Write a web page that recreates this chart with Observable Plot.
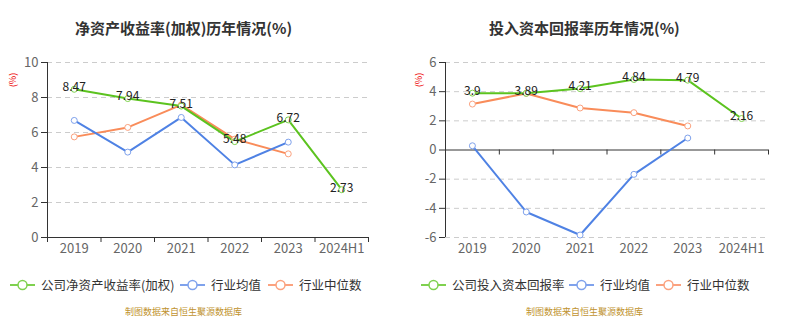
<!DOCTYPE html>
<html><head><meta charset="utf-8">
<script src="https://cdn.jsdelivr.net/npm/d3@7"></script>
<script src="https://cdn.jsdelivr.net/npm/@observablehq/plot@0.6"></script>
<style>
body{margin:0;background:#fff;font-family:"Noto Sans CJK SC","Noto Sans",sans-serif;}
#wrap{position:relative;width:812px;height:329px;overflow:hidden;background:#fff}
.abs{position:absolute;white-space:nowrap}
.title{font-size:15px;font-weight:bold;color:#333;line-height:18px}
.unit{font-size:9px;color:#e00;transform:rotate(-90deg);transform-origin:center;line-height:10px}
.leg{font-size:12.5px;color:#333;line-height:16px;display:flex;align-items:center}
.leg svg{margin-right:6px}
.cap{font-size:9px;color:#c0922e;line-height:11px}
.chart{position:absolute;top:0}
</style></head><body><div id="wrap"></div>
<script>
const years = ["2019","2020","2021","2022","2023","2024H1"];
const roeCompany = [8.47,7.94,7.51,5.48,6.72,2.73];
const roeMean = [6.69,4.88,6.86,4.15,5.45];
const roeMedian = [5.75,6.29,7.58,5.62,4.78];
const roicCompany = [3.9,3.89,4.21,4.84,4.79,2.16];
const roicMean = [0.29,-4.25,-5.83,-1.67,0.82];
const roicMedian = [3.15,3.88,2.88,2.56,1.65];
const roeTicks = [0,2,4,6,8,10];
const roicTicks = [-6,-4,-2,0,2,4,6];
const titles = ["净资产收益率(加权)历年情况(%)", "投入资本回报率历年情况(%)"];
const legendNames = [["公司净资产收益率(加权)","行业均值","行业中位数"],["公司投入资本回报率","行业均值","行业中位数"]];
const caption = "制图数据来自恒生聚源数据库";
const colors = {company:"#5cc31f", mean:"#4f82e4", median:"#f98c5a"};
const legendColors = {company:"#7fd14f", mean:"#7fa2ec", median:"#fba27f"};

const wrap = document.getElementById("wrap");
const font = '"Noto Sans CJK SC","Noto Sans",sans-serif';

function rows(arr){ return arr.map((v,i)=>({i, v})); }

function makeChart({company, mean, median, ticks, marginLeft, marginRight}) {
  const min = d3.min(ticks), max = d3.max(ticks);
  const n = years.length;
  const boundaries = d3.range(n + 1).map(k => k - 0.5);
  const c = rows(company), m = rows(mean), md = rows(median);
  return Plot.plot({
    width: 406, height: 260,
    marginLeft, marginRight, marginTop: 62, marginBottom: 23,
    x: {type: "linear", domain: [-0.5, n - 0.5]},
    y: {domain: [min, max]},
    style: {fontFamily: font, fontSize: "13px", color: "#666", background: "transparent", overflow: "visible"},
    marks: [
      Plot.gridY(ticks.filter(t => t !== 0), {stroke: "#ccc", strokeOpacity: 1, strokeDasharray: "5,4"}),
      Plot.ruleX([-0.5], {y1: min, y2: max, stroke: "#333"}),
      Plot.ruleY([0], {stroke: "#333"}),
      Plot.ruleX(boundaries, {x: d => d, y1: 0, y2: 0, insetBottom: -5, stroke: "#333"}),
      Plot.axisY({ticks, tickSize: 6, tickPadding: 3, tickFormat: d => String(d), stroke: "#333", fill: "#666", label: null}),
      Plot.axisX({ticks: d3.range(n), tickFormat: i => years[i], tickSize: 0, tickPadding: 6, fill: "#666", label: null}),
      Plot.line(md, {x: "i", y: "v", stroke: colors.median, strokeWidth: 2}),
      Plot.line(m, {x: "i", y: "v", stroke: colors.mean, strokeWidth: 2}),
      Plot.line(c, {x: "i", y: "v", stroke: colors.company, strokeWidth: 2}),
      Plot.dot(md, {x: "i", y: "v", r: 3, fill: "#fff", stroke: legendColors.median, strokeWidth: 1}),
      Plot.dot(m, {x: "i", y: "v", r: 3, fill: "#fff", stroke: legendColors.mean, strokeWidth: 1}),
      Plot.dot(c, {x: "i", y: "v", r: 3, fill: "#fff", stroke: legendColors.company, strokeWidth: 1}),
      Plot.text(c, {x: "i", y: "v", text: d => String(d.v), dy: -2, fontSize: 12, fill: "#222"})
    ]
  });
}

function icon(color){
  return `<svg width="25" height="12"><line x1="0" y1="6" x2="25" y2="6" stroke="${color}" stroke-width="2"/><circle cx="12.5" cy="6" r="4.5" fill="#fff" stroke="${color}" stroke-width="1.5"/></svg>`;
}

function add(html, cls, left, top){
  const d = document.createElement("div");
  d.className = "abs " + cls;
  d.style.left = left + "px"; d.style.top = top + "px";
  d.innerHTML = html;
  wrap.appendChild(d);
  return d;
}

const configs = [
  {company: roeCompany, mean: roeMean, median: roeMedian, ticks: roeTicks, marginLeft: 47, marginRight: 38, offset: 0,
   titleLeft: 75, legLeft: [10, 180, 268], capLeft: 125},
  {company: roicCompany, mean: roicMean, median: roicMedian, ticks: roicTicks, marginLeft: 39, marginRight: 44, offset: 406,
   titleLeft: 83, legLeft: [15, 163, 250], capLeft: 120}
];

configs.forEach((cfg, k) => {
  const svg = makeChart(cfg);
  const holder = document.createElement("div");
  holder.className = "chart";
  holder.style.left = cfg.offset + "px";
  holder.appendChild(svg);
  wrap.appendChild(holder);
  add(titles[k], "title", cfg.offset + cfg.titleLeft, 19);
  add("(%)", "unit", cfg.offset + 6, 75);
  const keys = ["company", "mean", "median"];
  keys.forEach((key, j) => {
    add(icon(legendColors[key]) + `<span>${legendNames[k][j]}</span>`, "leg", cfg.offset + cfg.legLeft[j], 277);
  });
  add(caption, "cap", cfg.offset + cfg.capLeft, 306);
});
</script>
</body></html>
